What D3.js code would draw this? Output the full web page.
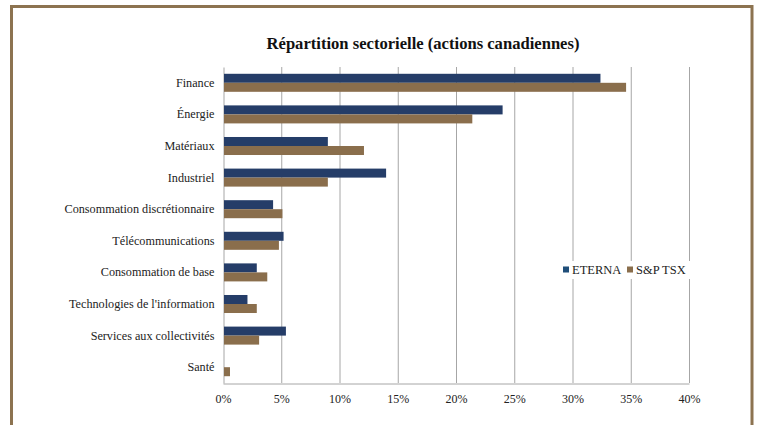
<!DOCTYPE html>
<html>
<head>
<meta charset="utf-8">
<script src="https://cdn.jsdelivr.net/npm/d3@7"></script>
<style>
  body { margin: 0; background: #fff; }
</style>
</head>
<body>
<div id="chart"></div>
<script>
// Chart data
const categories = [
  "Finance",
  "Énergie",
  "Matériaux",
  "Industriel",
  "Consommation discrétionnaire",
  "Télécommunications",
  "Consommation de base",
  "Technologies de l'information",
  "Services aux collectivités",
  "Santé",
];
const seriesNames = ["ETERNA", "S&P TSX"];
const eterna = [32.4, 24.0, 9.0, 14.0, 4.3, 5.2, 2.9, 2.1, 5.4, 0];
const tsx = [34.6, 21.4, 12.1, 9.0, 5.1, 4.8, 3.8, 2.9, 3.1, 0.6];
const xTicks = [0, 5, 10, 15, 20, 25, 30, 35, 40];
const colors = ["#253d68", "#8a6e4c"];
const legendColors = ["#1f4e79", "#8a6e4c"];

const FONT = '"Liberation Serif", "Times New Roman", serif';
const W = 758, H = 425;
const margin = { top: 67, right: 69, bottom: 42, left: 223 };
const width = W - margin.left - margin.right;
const height = H - margin.top - margin.bottom;

const root = d3.select("#chart").append("svg").attr("width", W).attr("height", H);

// outer frame
root.append("rect")
  .attr("x", 11.5).attr("y", 6.5)
  .attr("width", 740.5).attr("height", 440)
  .attr("fill", "none").attr("stroke", "#8c7350").attr("stroke-width", 3);

root.append("text")
  .attr("x", 423).attr("y", 49)
  .attr("text-anchor", "middle")
  .style("font-family", FONT)
  .style("font-size", "16.6px")
  .style("font-weight", "bold")
  .attr("fill", "#111")
  .text("Répartition sectorielle (actions canadiennes)");

const svg = root.append("g").attr("transform", `translate(${margin.left},${margin.top})`);

const x = d3.scaleLinear().domain([0, 40]).range([0, width]);
const y = d3.scaleBand().domain(categories).range([0, height]).paddingInner(0.43).paddingOuter(0.215);
const ySub = d3.scaleBand().domain(seriesNames).range([0, y.bandwidth()]);

// gridlines
svg.append("g")
  .selectAll("line")
  .data(xTicks.slice(1))
  .join("line")
  .attr("x1", (d) => x(d) + 0.5).attr("x2", (d) => x(d) + 0.5)
  .attr("y1", 0).attr("y2", height)
  .attr("stroke", "#a6a6a6").attr("stroke-width", 1);

// bottom axis
const xAxis = svg.append("g")
  .attr("transform", `translate(0,${height + 0.5})`)
  .call(d3.axisBottom(x).tickValues(xTicks).tickFormat((d) => d + "%").tickSize(0).tickPadding(11));
xAxis.select(".domain").attr("stroke", "#a6a6a6");
xAxis.selectAll("text").style("font-family", FONT).style("font-size", "12px").attr("fill", "#222");

// left axis
const yAxis = svg.append("g")
  .attr("transform", "translate(0.5,0)")
  .call(d3.axisLeft(y).tickSize(0).tickPadding(9));
yAxis.select(".domain").attr("stroke", "#a6a6a6");
yAxis.selectAll("text").style("font-family", FONT).style("font-size", "12.2px").attr("fill", "#222");

// legend with white background over gridlines
const legend = svg.append("g").attr("transform", `translate(${563 - margin.left},${270 - margin.top})`);
legend.append("rect")
  .attr("x", -4).attr("y", -9).attr("width", 136).attr("height", 18)
  .attr("fill", "#fff");
const legendX = [0, 64];
seriesNames.forEach((name, i) => {
  legend.append("rect")
    .attr("x", legendX[i]).attr("y", -3.5).attr("width", 6).attr("height", 6)
    .attr("fill", legendColors[i]);
  legend.append("text")
    .attr("x", legendX[i] + 9).attr("y", 0).attr("dy", "0.35em")
    .style("font-family", FONT)
    .style("font-size", "12.5px").attr("fill", "#222")
    .text(name);
});

// bars
const rows = categories.map((c, i) => ({ cat: c, values: [eterna[i], tsx[i]] }));
const groups = svg.selectAll(".row")
  .data(rows)
  .join("g")
  .attr("class", "row")
  .attr("transform", (d) => `translate(0,${y(d.cat)})`);

groups.selectAll("rect")
  .data((d) => d.values.map((v, i) => ({ name: seriesNames[i], v, i })))
  .join("rect")
  .attr("x", 1)
  .attr("y", (d) => ySub(d.name))
  .attr("width", (d) => Math.max(0, x(d.v) - 1))
  .attr("height", ySub.bandwidth())
  .attr("fill", (d) => colors[d.i]);
</script>
</body>
</html>
